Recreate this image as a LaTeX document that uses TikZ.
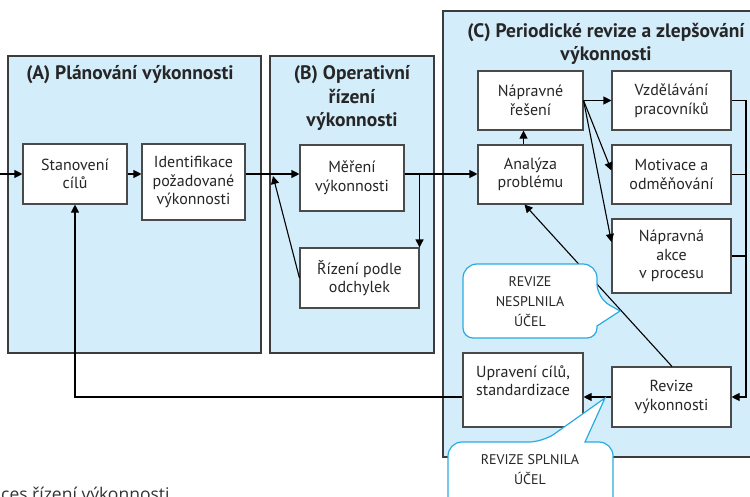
\documentclass[tikz,border=0pt]{standalone}
\usepackage{fontspec}
\setmainfont{PT Sans}
\newfontfamily\captionfont{Open Sans}
\usetikzlibrary{arrows.meta}
\usetikzlibrary{calc}
\definecolor{panelblue}{HTML}{D4EDFA}
\definecolor{panelline}{HTML}{3C3C3C}
\definecolor{boxline}{HTML}{4A4A4A}
\definecolor{calloutcyan}{HTML}{29ABE2}

\begin{document}
\begin{tikzpicture}[x=1pt, y=-1pt,
		panel/.style={rectangle, draw=panelline, fill=panelblue, line width=1.4pt, inner sep=0pt},
		ptitle/.style={align=center, font=\fontsize{19.5}{23.5}\selectfont\bfseries, text=black!85},
		stepbox/.style={rectangle, draw=boxline, fill=white, line width=1.1pt, inner sep=0pt, align=center, font=\fontsize{16}{18.5}\selectfont, text=black!85},
		bubble/.style={draw=calloutcyan, fill=white, line width=1.2pt},
		btext/.style={align=center, font=\fontsize{14}{20}\selectfont, text=black!85},
		link/.style={line width=1.1pt},
		>={Triangle[length=8pt, width=8pt]}
		]
		\useasboundingbox (0,0) rectangle (750,496);
		
		% panels
		\node[panel, minimum width=253, minimum height=297] (pA) at (134.5, 204.5) {};
		\node[panel, minimum width=164, minimum height=297] (pB) at (352, 204.5) {};
		\node[panel, minimum width=327, minimum height=446] (pC) at (606.5, 234) {};
		\node[ptitle] (tA) at (130, 75) {(A) Plánování výkonnosti};
		\node[ptitle] (tB) at (352, 98) {(B) Operativní\\řízení\\výkonnosti};
		\node[ptitle] (tC) at (606, 44) {(C) Periodické revize a zlepšování\\výkonnosti};
		
		% boxes
		\node[stepbox, minimum width=104, minimum height=60] (stan) at (75, 174) {Stanovení\\cílů};
		\node[stepbox, minimum width=103, minimum height=76] (ident) at (193.5, 182) {Identifikace\\požadované\\výkonnosti};
		\node[stepbox, minimum width=104, minimum height=66] (mer) at (352, 178) {Měření\\výkonnosti};
		\node[stepbox, minimum width=119, minimum height=60] (rid) at (359.5, 278) {Řízení podle\\odchylek};
		\node[stepbox, minimum width=105, minimum height=59] (nap) at (530.5, 100.5) {Nápravné\\řešení};
		\node[stepbox, minimum width=105, minimum height=59] (ana) at (530.5, 174.5) {Analýza\\problému};
		\node[stepbox, minimum width=119, minimum height=59] (vzd) at (671.5, 100.5) {Vzdělávání\\pracovníků};
		\node[stepbox, minimum width=119, minimum height=59] (mot) at (671.5, 174.5) {Motivace a\\odměňování};
		\node[stepbox, minimum width=119, minimum height=74] (akce) at (671.5, 256) {Nápravná\\akce\\v procesu};
		\node[stepbox, minimum width=120, minimum height=74] (upr) at (523, 390) {Upravení cílů,\\standardizace\\~};
		\node[stepbox, minimum width=119, minimum height=60] (rev) at (671.5, 397) {Revize\\výkonnosti};
		
		\coordinate (in) at (0, 174);
		\coordinate (j) at (273, 174);
		\coordinate (bus) at (746, 0);
		
		% connectors
		\draw[->, link] (in) to (stan.west);
		\draw[->, link] (stan.east) to (stan.east -| ident.west);
		\draw[link] (ident.east |- j) to (j);
		\draw[->, link] (j) to (j -| mer.west);
		\draw[->, link] (rid.west) to ([yshift=-2pt]j);
		\draw[->, link] (mer.east |- j) -| (rid.north east);
		\draw[->, link] (mer.east |- j) to (j -| ana.west);
		\draw[->, link] ([xshift=-7pt]ana.north) to ([xshift=-7pt]nap.south);
		\draw[->, link] (nap.east) to (vzd.west);
		\draw[->, link] (nap.east) to ([yshift=4pt]mot.west);
		\draw[->, link] (nap.east) to ([yshift=14pt]akce.west);
		\draw[->, link] (vzd.east) -| (bus |- rev.east) to (rev.east);
		\draw[link] (mot.east) to (mot.east -| bus);
		\draw[link] (akce.east) to (akce.east -| bus);
		\draw[->, link] (rev.west) to (rev.west -| upr.east);
		\draw[->, link] (upr.west |- rev.west) -| (stan.south);
		\draw[->, link] ([xshift=0.5pt]rev.north) to ([xshift=-6pt]ana.south);
		
		% callouts
		\draw[bubble, rounded corners=14pt] (463,300) -- (463,264) -- (597,264) -- (597,298) [sharp corners] -- (620,311) -- (597,326) [rounded corners=10pt] -- (597,338) -- (463,338) -- cycle;
		\node[btext] (nes) at (530, 302) {REVIZE\\NESPLNILA\\ÚČEL};
		\draw[bubble, rounded corners=14pt] (448,480) -- (448,442) -- (543,442) [sharp corners] -- (605,398) -- (585,442) [rounded corners=14pt] -- (613,442) -- (613,515) -- (448,515) -- cycle;
		\node[btext] (spl) at (530, 470) {REVIZE SPLNILA\\ÚČEL};
		
		\node[anchor=base west, inner sep=0pt, font=\captionfont\fontsize{17.5}{17.5}\selectfont, text=black!80] (cap) at (1, 500) {ces řízení výkonnosti};
		
		\end{tikzpicture}
\end{document}
